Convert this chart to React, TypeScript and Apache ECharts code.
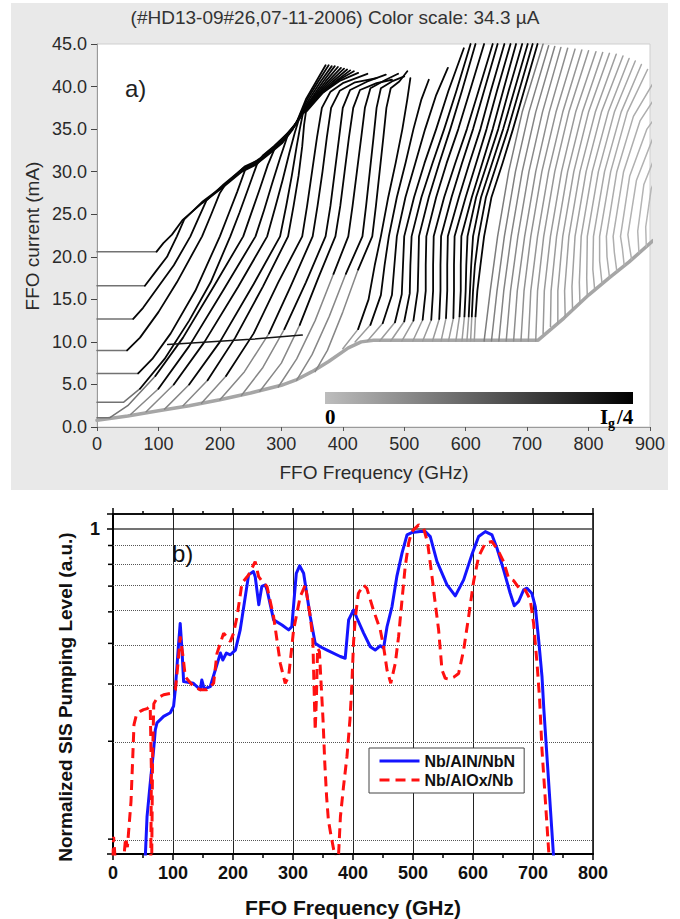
import React, { useEffect, useRef } from "react";
import * as echarts from "echarts";

const SANS = "'Liberation Sans', Arial, sans-serif";
const SERIF = "'Liberation Serif', 'Times New Roman', serif";

// ---------------- Panel a) : FFO IVCs (x: GHz, y: mA), flat [x0,y0,x1,y1,...] ----------------
const lowerEdge = [0, 0.8, 50, 1.3, 100, 1.9, 150, 2.5, 200, 3.2, 250, 4.0, 300, 4.9, 323, 5.5, 350, 6.5, 377, 7.7, 409, 9.3, 430, 10.0, 450, 10.2, 718, 10.2, 760, 12.8, 800, 15.5, 833, 17.5, 866, 19.4, 905, 21.9];

const shelfCurves = [
  [0, 20.6, 97, 20.6, 108, 21.6, 122, 22.6, 139, 24.3, 171, 26.3, 204, 28.1, 236, 30.0, 258, 30.8, 279, 32.0, 302, 33.4, 318, 34.9, 326, 36.0, 340, 38.5, 356, 40.5, 372, 42.5],
  [0, 16.6, 78, 16.6, 97, 18.4, 114, 20.0, 130, 22.4, 142, 24.4, 172, 26.5, 205, 28.3, 237, 30.2, 260, 31.0, 280, 32.2, 303, 33.6, 319, 35.1, 327, 36.1, 343, 38.6, 360, 40.6, 377, 42.5],
  [0, 12.7, 59, 12.7, 75, 14.0, 100, 16.5, 125, 19.0, 152, 22.4, 165, 24.5, 178, 26.6, 206, 28.5, 238, 30.4, 262, 31.2, 282, 32.4, 304, 33.8, 320, 35.3, 328, 36.2, 346, 38.6, 364, 40.6, 382, 42.4],
  [0, 9.0, 49, 9.0, 70, 10.5, 100, 13.5, 130, 17.0, 171, 22.4, 186, 25.0, 200, 27.5, 210, 28.6, 240, 30.6, 264, 31.4, 284, 32.6, 306, 34.0, 322, 35.4, 329, 36.3, 349, 38.6, 368, 40.6, 387, 42.4],
  [0, 6.3, 67, 6.3, 90, 8.0, 120, 11.0, 160, 16.0, 200, 22.4, 214, 25.0, 228, 27.6, 242, 30.4, 266, 31.6, 286, 32.8, 307, 34.2, 323, 35.5, 330, 36.4, 352, 38.7, 372, 40.6, 392, 42.3],
  [0, 2.9, 43, 2.9, 70, 4.5, 110, 8.0, 150, 12.5, 185, 17.0, 217, 22.4, 232, 25.2, 246, 28.0, 260, 30.8, 270, 31.9, 288, 33.0, 309, 34.4, 324, 35.6, 331, 36.5, 355, 38.8, 376, 40.6, 397, 42.2],
  [0, 1.1, 21, 1.1, 50, 2.5, 95, 6.0, 140, 10.5, 190, 16.5, 238, 22.4, 252, 25.3, 265, 28.0, 278, 30.8, 292, 33.2, 311, 34.6, 325, 35.8, 332, 36.6, 358, 38.9, 380, 40.6, 402, 42.1],
];
const shelfSplit = [1, 1, 1, 1, 1, 2, 3];

const fanCurves = [
  [55, 1.5, 100, 4.5, 150, 9.5, 205, 16.0, 258, 22.4, 272, 25.5, 285, 28.6, 298, 31.6, 310, 34.2, 326, 35.9, 333, 36.7, 361, 39.0, 384, 40.6, 407, 42.0],
  [80, 1.8, 125, 5.0, 175, 10.0, 230, 16.5, 277, 22.4, 290, 25.8, 302, 29.0, 313, 32.2, 322, 34.6, 328, 36.0, 334, 36.8, 364, 39.1, 388, 40.6, 412, 41.9],
  [110, 2.1, 150, 5.0, 200, 10.0, 255, 16.8, 298, 22.4, 308, 26.0, 317, 29.5, 325, 33.0, 330, 35.0, 335, 36.8, 366, 39.2, 392, 40.7, 418, 41.8],
  [140, 2.5, 180, 5.5, 225, 10.5, 270, 16.5, 311, 22.4, 320, 26.0, 328, 29.5, 334, 33.0, 337, 35.5, 340, 37.0, 368, 39.3, 396, 40.7, 425, 41.6],
  [170, 2.8, 210, 6.0, 255, 11.0, 295, 17.0, 334, 22.4, 342, 26, 350, 30, 358, 34, 366, 37.5, 380, 39.4, 400, 40.4, 440, 41.5],
  [200, 3.2, 240, 6.5, 280, 11.0, 315, 16.5, 351, 22.4, 359, 26, 367, 30, 374, 34, 381, 37.5, 395, 39.5, 420, 40.5, 455, 41.0],
  [235, 3.7, 270, 7.0, 305, 11.5, 340, 17.0, 372, 22.4, 380, 26, 387, 30, 394, 34, 400, 37.5, 412, 39.6, 440, 40.6, 470, 41.4],
  [265, 4.2, 300, 7.5, 330, 12.0, 360, 17.5, 388, 22.4, 396, 26, 403, 30, 410, 34, 417, 37.5, 428, 39.6, 455, 40.4, 480, 40.8],
  [295, 4.7, 325, 8.0, 355, 12.5, 385, 18.0, 409, 22.4, 416, 26, 423, 30, 430, 34, 436, 37.5, 445, 39.8, 470, 40.8, 490, 41.5],
  [325, 5.5, 350, 8.5, 378, 13.0, 405, 18.0, 432, 22.4, 438, 26, 444, 30, 450, 34, 455, 37.5, 462, 39.8, 480, 40.6, 500, 41.2],
  [355, 6.5, 375, 9.0, 400, 13.5, 425, 18.5, 448, 22.4, 454, 26, 460, 30, 466, 34, 471, 37.5, 478, 39.8, 492, 40.6, 505, 41.8],
];
const fanSplit = [1, 1, 1, 1, 1, 2, 2, 2, 3, 3, 3];

const crossCurve = [115, 9.7, 180, 10.0, 250, 10.3, 334, 10.8];

const blackCurves = [
  [400, 9.2, 425, 11.5, 442, 15, 452, 19, 462, 22.4, 474, 27, 486, 31, 497, 35, 505, 38.5, 510, 41.0],
  [420, 10.0, 445, 12, 462, 15.5, 468, 19, 475, 22.4, 488, 27, 502, 31, 515, 35, 528, 38.5, 540, 40.8],
  [440, 10.1, 465, 12.2, 480, 15.5, 484, 19, 488, 22.4, 502, 27, 518, 31, 534, 35, 552, 39, 571, 42.2],
  [460, 10.1, 485, 12.3, 496, 15.6, 498, 19, 500, 22.4, 516, 27, 533, 31, 552, 35, 572, 39.5, 597, 44.5],
  [478, 10.1, 500, 12.4, 509, 15.7, 510, 19, 512, 22.4, 528, 27, 546, 31, 565, 35, 585, 39.5, 608, 45],
  [496, 10.1, 515, 12.5, 522, 16, 523, 19, 524, 22.4, 540, 27, 557, 31, 575, 35, 594, 39.5, 616, 45],
  [514, 10.1, 530, 12.6, 535, 16, 535, 19, 536, 22.4, 552, 27, 569, 31, 588, 35, 607, 39.5, 630, 45],
  [530, 10.1, 544, 12.6, 547, 16, 547, 19, 548, 22.4, 565, 27, 583, 31, 602, 35, 621, 39.5, 644, 45],
  [546, 10.1, 557, 12.7, 559, 16, 559, 19, 560, 22.4, 577, 27, 594, 31, 612, 35, 630, 39.5, 652, 45],
  [560, 10.1, 568, 12.8, 570, 16, 570, 19, 571, 22.4, 589, 27, 606, 31, 624, 35, 641, 39.5, 663, 45],
  [572, 10.1, 580, 12.8, 581, 16, 581, 19, 582, 22.4, 600, 27, 617, 31, 634, 35, 651, 39.5, 673, 45],
  [584, 10.1, 590, 13, 592, 16, 592, 19, 593, 22.4, 610, 27, 627, 31, 644, 35, 661, 39.5, 682, 45],
  [594, 10.1, 598, 13, 600, 16, 601, 19, 603, 22.4, 617, 27, 635, 31, 653, 35, 670, 39.5, 692, 45],
  [602, 10.1, 605, 13, 607, 16, 609, 19, 612, 22.4, 625, 27, 643, 31, 661, 35, 679, 39.5, 701, 45],
  [608, 10.1, 610, 13, 612, 16, 615, 19, 621, 22.4, 633, 27, 651, 31, 669, 35, 687, 39.5, 709, 45],
  [614, 10.1, 616, 13, 619, 16, 624, 19, 630, 22.4, 642, 27, 660, 31, 677, 35, 695, 39.5, 717, 45],
];

const grayCurves = [
  [630, 10.1, 640, 16, 652, 22.4, 670, 30, 692, 37, 726, 45],
  [642, 10.1, 651, 16, 663, 22.4, 681, 30, 703, 37, 735, 44.8],
  [654, 10.1, 662, 16, 674, 22.4, 692, 30, 714, 37, 745, 44.7],
  [666, 10.1, 673, 16, 685, 22.4, 703, 30, 725, 37, 755, 44.6],
  [678, 10.1, 684, 16, 696, 22.4, 714, 30, 736, 37, 766, 44.5],
  [690, 10.1, 695, 16, 706, 22.4, 724, 30, 747, 37, 778, 44.4],
  [702, 10.1, 706, 16, 717, 22.4, 735, 30, 758, 37, 789, 44.3],
  [714, 10.1, 717, 16, 727, 22.4, 745, 30, 768, 37, 800, 44.2],
  [726, 11.0, 728, 16, 738, 22.4, 756, 30, 779, 37, 812, 44.1],
  [738, 11.8, 739, 16, 748, 22.4, 766, 30, 790, 37, 823, 44.0],
  [750, 12.2, 750, 16, 758, 22.4, 776, 30, 800, 37, 834, 43.9],
  [762, 12.9, 761, 16, 768, 22.4, 786, 30, 811, 37, 845, 43.8],
  [774, 13.7, 773, 16.5, 778, 22.4, 796, 30, 821, 37, 856, 43.6],
  [786, 14.5, 785, 17, 788, 22.4, 806, 30, 832, 37, 866, 43.3],
  [798, 15.3, 797, 17.5, 798, 22.4, 816, 30, 842, 37, 876, 43.0],
  [810, 16.1, 807, 18.5, 808, 22.4, 826, 30, 853, 37, 886, 42.6],
  [822, 16.8, 818, 19.5, 818, 22.4, 836, 30, 863, 37, 896, 42.0],
  [834, 17.6, 830, 20, 829, 22.4, 846, 30, 873, 36.5, 910, 41.0],
  [846, 18.3, 842, 20.5, 840, 22.4, 857, 30, 884, 36, 920, 40],
  [858, 19.0, 855, 21, 852, 22.4, 867, 29.5, 895, 35, 930, 38.5],
  [870, 19.7, 866, 21.5, 864, 22.6, 878, 29, 905, 34, 940, 37],
  [882, 20.5, 880, 23, 890, 28.5, 915, 33, 945, 36],
  [894, 21.2, 893, 23.5, 902, 28, 925, 32, 950, 35],
];
// color-scale level (0 = no pumping, 1 = Ig/4) of each gray curve
const grayLevels = [0.4, 0.38, 0.36, 0.34, 0.32, 0.3, 0.28, 0.27, 0.26, 0.25, 0.24, 0.23, 0.22, 0.21, 0.2, 0.19, 0.18, 0.17, 0.16, 0.15, 0.14, 0.13, 0.12];

// ---------------- Panel b) : SIS pumping vs FFO frequency ----------------
const blueNbAlN = [
  [53.5, 0.095], [56.7, 0.13], [62, 0.165], [67.7, 0.209], [70.5, 0.241], [73.3, 0.253], [84.4, 0.265], [95.5, 0.272], [101, 0.285], [103.8, 0.32],
  [109, 0.435], [112, 0.512], [115, 0.424], [117.7, 0.339], [134, 0.335], [145.5, 0.32], [148, 0.343], [152, 0.322], [162, 0.327], [170.5, 0.368],
  [179, 0.415], [183, 0.395], [189, 0.415], [195.5, 0.41], [204, 0.424], [212, 0.489], [220.5, 0.619], [226, 0.722], [234, 0.739], [237, 0.713],
  [243, 0.584], [248, 0.665], [254, 0.672], [256.7, 0.649], [267.7, 0.525], [281.7, 0.506], [292.7, 0.489], [298, 0.5], [305.5, 0.73], [311, 0.77],
  [317.7, 0.73], [328.8, 0.537], [337, 0.445], [345.5, 0.434], [356.7, 0.424], [378.8, 0.405], [387, 0.4], [392.7, 0.525], [401, 0.563], [406.7, 0.531],
  [417.7, 0.478], [428.8, 0.434], [437, 0.424], [445.5, 0.437], [451, 0.43], [456.7, 0.5], [465, 0.577], [473, 0.713], [481.7, 0.842], [490, 0.958],
  [498, 0.974], [512, 0.981], [520.5, 0.981], [528.8, 0.947], [540, 0.793], [556.7, 0.673], [570.5, 0.622], [584.4, 0.697], [598, 0.832], [609.4, 0.947],
  [620.5, 0.981], [631.7, 0.958], [640, 0.872], [651, 0.748], [662, 0.634], [668.8, 0.58], [676, 0.598], [684.4, 0.649], [690, 0.657], [698, 0.634],
  [703.8, 0.577], [709.4, 0.456], [715, 0.351], [718, 0.28], [734, 0.1], [735, 0.095],
];
const redNbAlOx = [
  [0, 0.097], [1, 0.113], [4, 0.094], [18, 0.097], [21, 0.112], [24, 0.105], [30, 0.145], [33, 0.2], [35, 0.25], [39, 0.268], [46, 0.275], [51, 0.278],
  [57, 0.28], [62, 0.285], [64, 0.18], [63, 0.095], [64.5, 0.095], [66, 0.2], [68, 0.29], [73.3, 0.301], [84.4, 0.309], [95.5, 0.312], [104, 0.32],
  [109.4, 0.405], [112, 0.467], [116.7, 0.405], [120.5, 0.351], [134.4, 0.327], [145.5, 0.32], [156.7, 0.32], [167.7, 0.335], [173.3, 0.414], [184.4, 0.478],
  [195.5, 0.45], [201, 0.478], [206.7, 0.537], [215, 0.681], [226, 0.722], [237, 0.793], [242.7, 0.713], [251, 0.681], [256.7, 0.665], [267.7, 0.537],
  [278.8, 0.386], [287, 0.335], [292.7, 0.351], [301, 0.489], [312, 0.619], [320.5, 0.672], [328.8, 0.537], [333, 0.46], [335, 0.33], [337, 0.24],
  [339, 0.3], [341, 0.43], [344, 0.42], [347, 0.33], [350, 0.26], [353, 0.19], [356, 0.15], [359, 0.127], [363, 0.115], [367, 0.105], [372, 0.094],
  [376, 0.1], [379, 0.13], [384, 0.16], [390, 0.2], [395, 0.26], [398, 0.33], [401, 0.45], [404, 0.537], [409, 0.634], [417.7, 0.672], [423, 0.657],
  [434, 0.563], [445.5, 0.489], [451, 0.434], [456.7, 0.368], [463, 0.335], [470.5, 0.386], [476, 0.467], [481.7, 0.605], [487, 0.765], [492.7, 0.904],
  [498, 0.981], [509.5, 1.029], [517.7, 1.005], [524.4, 0.904], [531.7, 0.713], [537, 0.591], [542.7, 0.489], [548.3, 0.368], [553.8, 0.347], [560, 0.345],
  [568, 0.35], [576, 0.359], [584.4, 0.424], [592.7, 0.537], [601, 0.689], [609.4, 0.822], [620.5, 0.904], [631.7, 0.914], [642.7, 0.852], [651, 0.793],
  [659.4, 0.705], [667.7, 0.693], [678.8, 0.649], [687, 0.649], [695.5, 0.605], [701, 0.512], [706.7, 0.386], [711, 0.3], [715, 0.209], [720.5, 0.147],
  [726, 0.103], [728, 0.094],
];
const dottedLevels = [0.8889, 0.7778, 0.6667, 0.5556, 0.4444, 0.3333, 0.2222, 0.1111];

// ---------------- helpers ----------------
const toPairs = (flat: number[]) => {
  const out: number[][] = [];
  for (let i = 0; i < flat.length; i += 2) out.push([flat[i], flat[i + 1]]);
  return out;
};
const shade = (lv: number) => {
  const g = Math.round(207 * (1 - lv));
  return `rgb(${g},${g},${g})`;
};
const lineA = (pts: number[][], color: string, width: number, z: number) => ({
  type: "line",
  xAxisIndex: 0,
  yAxisIndex: 0,
  data: pts,
  symbol: "none",
  showSymbol: false,
  silent: true,
  z,
  lineStyle: { color, width, cap: "round", join: "round" },
});

function buildSeriesA() {
  const low: any[] = [];
  const high: any[] = [];
  low.push(lineA(toPairs(lowerEdge), shade(0.2), 3.5, 1));
  grayCurves.forEach((c, i) => low.push(lineA(toPairs(c), shade(grayLevels[i]), 1.5, 2)));
  const addSplit = (c: number[], split: number, loLv: number) => {
    const pts = toPairs(c);
    low.push(lineA(pts.slice(0, split + 1), shade(loLv), 1.5, 3));
    high.push(lineA(pts.slice(split), shade(0.97), 1.8, 4));
  };
  shelfCurves.forEach((c, i) => addSplit(c, shelfSplit[i], 0.45));
  fanCurves.forEach((c, i) => addSplit(c, fanSplit[i], 0.35));
  blackCurves.forEach((c) => addSplit(c, 1, 0.25));
  high.push(lineA(toPairs(crossCurve), shade(0.9), 1.5, 4));
  return [...low, ...high];
}

export default function App() {
  const ref = useRef<HTMLDivElement>(null);
  useEffect(() => {
    const chart = echarts.init(ref.current!, null, { renderer: "svg" });
    const axisTextA = { fontFamily: SANS, fontSize: 18, color: "#2a2a2a" };
    const axisTextB = { fontFamily: SANS, fontSize: 18, fontWeight: "bold", color: "#111" };
    const option: any = {
      animation: false,
      grid: [
        { left: 97, top: 44, width: 553, height: 383, show: true, backgroundColor: "#fff", borderColor: "#cfcfcf", borderWidth: 1 },
        { left: 113, top: 514, width: 480, height: 340, show: true, backgroundColor: "#fff", borderColor: "#000", borderWidth: 1.5 },
      ],
      xAxis: [
        {
          gridIndex: 0, type: "value", min: 0, max: 900, interval: 100,
          axisLine: { show: true, lineStyle: { color: "#9a9a9a" } },
          axisTick: { show: true, length: 4, lineStyle: { color: "#555" } },
          axisLabel: { ...axisTextA, margin: 8 },
          splitLine: { show: false },
        },
        {
          gridIndex: 1, type: "value", min: 0, max: 800, interval: 100,
          axisLine: { show: true, lineStyle: { color: "#000", width: 2 } },
          axisTick: { show: true, length: 6, lineStyle: { color: "#000", width: 1.5 } },
          minorTick: { show: true, splitNumber: 2, length: 4, lineStyle: { color: "#000", width: 1.5 } },
          axisLabel: { ...axisTextB, margin: 10 },
          splitLine: { show: true, lineStyle: { color: "#222", width: 1 } },
        },
        {
          gridIndex: 1, type: "value", min: 0, max: 800, interval: 100, position: "top",
          axisLine: { show: true, lineStyle: { color: "#000", width: 1.5 } },
          axisTick: { show: true, length: 6, lineStyle: { color: "#000", width: 1.5 } },
          minorTick: { show: true, splitNumber: 2, length: 3, lineStyle: { color: "#000", width: 1.5 } },
          axisLabel: { show: false },
          splitLine: { show: false },
        },
      ],
      yAxis: [
        {
          gridIndex: 0, type: "value", min: 0, max: 45, interval: 5,
          axisLine: { show: true, lineStyle: { color: "#9a9a9a" } },
          axisTick: { show: true, length: 6, lineStyle: { color: "#444" } },
          axisLabel: { ...axisTextA, margin: 10, formatter: (v: number) => v.toFixed(1) },
          splitLine: { show: false },
        },
        {
          gridIndex: 1, type: "log", logBase: 10, min: 0.1, max: 1.1111,
          axisLine: { show: true, lineStyle: { color: "#000", width: 2 } },
          axisTick: { show: true, length: 6, lineStyle: { color: "#000", width: 1.5 } },
          axisLabel: { ...axisTextB, margin: 13, formatter: (v: number) => (Math.abs(v - 1) < 1e-6 ? "1" : "") },
          splitLine: { show: true, lineStyle: { color: "#444", width: 1.5 } },
        },
      ],
      legend: {
        data: ["Nb/AlN/NbN", "Nb/AlOx/Nb"],
        left: 369, top: 748, orient: "vertical",
        backgroundColor: "#fff", borderColor: "#444", borderWidth: 1, borderRadius: 0,
        padding: [5, 9], itemGap: 3, itemWidth: 40, itemHeight: 18,
        selectedMode: false,
        itemStyle: { opacity: 0 },
        lineStyle: { width: 3 },
        textStyle: { fontFamily: SANS, fontSize: 16, fontWeight: "bold", color: "#111" },
      },
      series: [
        ...buildSeriesA(),
        {
          type: "line", xAxisIndex: 1, yAxisIndex: 1, data: [[0, 0.5]], symbol: "none", silent: true,
          lineStyle: { opacity: 0 },
          markLine: {
            silent: true, symbol: ["none", "none"], label: { show: false },
            lineStyle: { type: "dotted", color: "#555", width: 1 },
            data: dottedLevels.map((v) => ({ yAxis: v })),
          },
        },
        {
          name: "Nb/AlN/NbN", type: "line", xAxisIndex: 1, yAxisIndex: 1, data: blueNbAlN,
          symbol: "none", silent: true, z: 5,
          lineStyle: { color: "#1414ff", width: 3, join: "round" },
          itemStyle: { color: "#1414ff" },
        },
        {
          name: "Nb/AlOx/Nb", type: "line", xAxisIndex: 1, yAxisIndex: 1, data: redNbAlOx,
          symbol: "none", silent: true, z: 6,
          lineStyle: { color: "#ff1010", width: 3, type: [10, 6] },
          itemStyle: { color: "#ff1010" },
        },
      ],
    };
    chart.setOption(option);

    const txt = (text: string, x: number, y: number, font: string, fill: string, align = "center", extra: any = {}) => ({
      type: "text", x, y, z: 100, ...extra,
      style: { text, x: 0, y: 0, font, fill, align, textAlign: align, verticalAlign: "middle", textVerticalAlign: "middle" },
    });
    const base = (text: string, x: number, y: number, font: string, fill: string, align = "left") => ({
      type: "text", x, y, z: 100,
      style: { text, x: 0, y: 0, font, fill, align, textAlign: align, verticalAlign: "bottom", textVerticalAlign: "bottom" },
    });
    const minorTicks = dottedLevels.map((v) => {
      const py = chart.convertToPixel({ yAxisIndex: 1 } as any, v) as number;
      return { type: "line", z: 100, shape: { x1: 108, y1: py, x2: 113, y2: py }, style: { stroke: "#000", lineWidth: 1.5 } };
    });
    const elements: any[] = [
      txt("(#HD13-09#26,07-11-2006) Color scale: 34.3 \u00b5A", 335, 17, `19px ${SANS}`, "#333"),
      txt("a)", 125, 88, `24px ${SANS}`, "#222", "left"),
      {
        type: "rect", z: 100, shape: { x: 325, y: 392, width: 308, height: 12 },
        style: {
          fill: { type: "linear", x: 0, y: 0, x2: 1, y2: 0, colorStops: [{ offset: 0, color: "#bdbdbd" }, { offset: 1, color: "#000" }] },
        },
      },
      base("0", 325, 427, `bold 21px ${SERIF}`, "#000"),
      base("I", 600, 427, `bold 21px ${SERIF}`, "#000"),
      base("g", 608, 430, `bold 14px ${SERIF}`, "#000"),
      base("/4", 617, 427, `bold 21px ${SERIF}`, "#000"),
      txt("FFO Frequency (GHz)", 374, 472, `19px ${SANS}`, "#2a2a2a"),
      txt("FFO current (mA)", 32, 236, `19px ${SANS}`, "#2a2a2a", "center", { rotation: Math.PI / 2 }),
      txt("b)", 172, 553, `24px ${SANS}`, "#111", "left"),
      txt("FFO Frequency (GHz)", 353, 907, `bold 21px ${SANS}`, "#111"),
      txt("Normalized SIS Pumping Level (a.u.)", 65, 697, `bold 19px ${SANS}`, "#111", "center", { rotation: Math.PI / 2 }),
      ...minorTicks,
    ];
    chart.setOption({ graphic: { elements } });
    return () => chart.dispose();
  }, []);
  return (
    <div style={{ position: "fixed", left: 0, top: 0, width: 680, height: 919, background: "#fff", overflow: "hidden" }}>
      <div style={{ position: "absolute", left: 11, top: 3, width: 657, height: 487, background: "#e9e9e9" }} />
      <div ref={ref} style={{ position: "absolute", left: 0, top: 0, width: 680, height: 919 }} />
    </div>
  );
}
